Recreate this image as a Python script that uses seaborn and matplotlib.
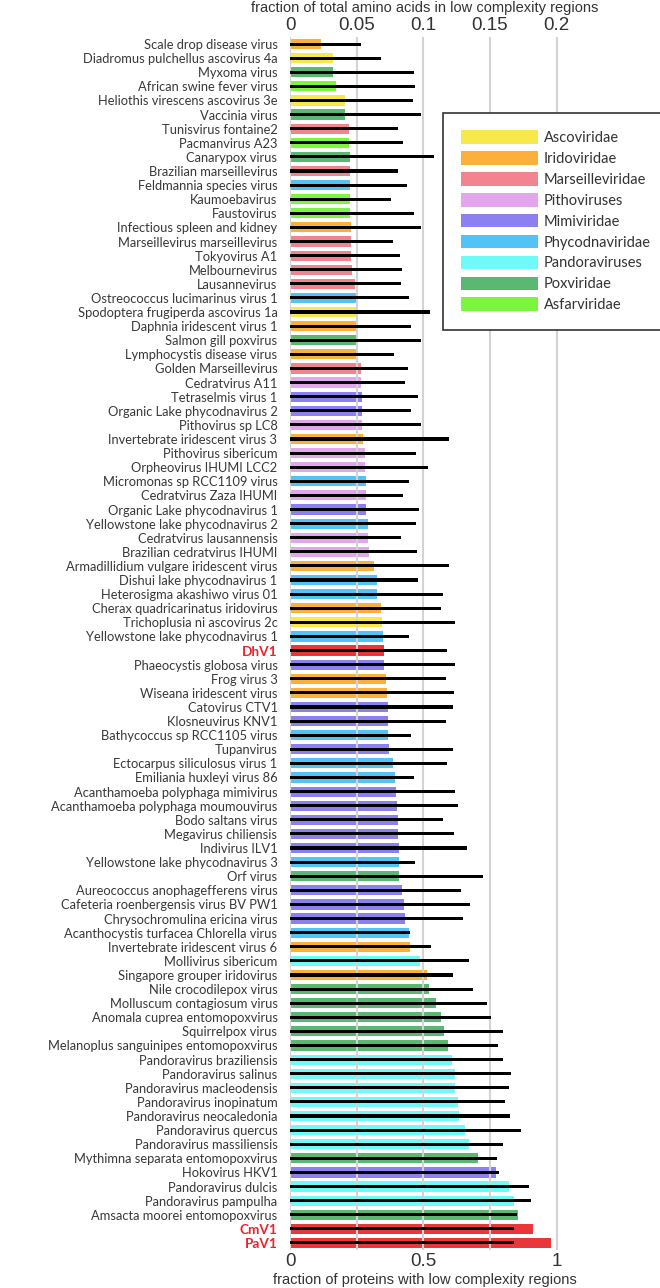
import matplotlib
matplotlib.use("Agg")
import matplotlib.pyplot as plt
import seaborn as sns
import pandas as pd
from matplotlib.patches import Patch

viruses = [
    "Scale drop disease virus", "Diadromus pulchellus ascovirus 4a", "Myxoma virus",
    "African swine fever virus", "Heliothis virescens ascovirus 3e", "Vaccinia virus",
    "Tunisvirus fontaine2", "Pacmanvirus A23", "Canarypox virus", "Brazilian marseillevirus",
    "Feldmannia species virus", "Kaumoebavirus", "Faustovirus", "Infectious spleen and kidney",
    "Marseillevirus marseillevirus", "Tokyovirus A1", "Melbournevirus", "Lausannevirus",
    "Ostreococcus lucimarinus virus 1", "Spodoptera frugiperda ascovirus 1a",
    "Daphnia iridescent virus 1", "Salmon gill poxvirus", "Lymphocystis disease virus",
    "Golden Marseillevirus", "Cedratvirus A11", "Tetraselmis virus 1",
    "Organic Lake phycodnavirus 2", "Pithovirus sp LC8", "Invertebrate iridescent virus 3",
    "Pithovirus sibericum", "Orpheovirus IHUMI LCC2", "Micromonas sp RCC1109 virus",
    "Cedratvirus Zaza IHUMI", "Organic Lake phycodnavirus 1", "Yellowstone lake phycodnavirus 2",
    "Cedratvirus lausannensis", "Brazilian cedratvirus IHUMI",
    "Armadillidium vulgare iridescent virus", "Dishui lake phycodnavirus 1",
    "Heterosigma akashiwo virus 01", "Cherax quadricarinatus iridovirus",
    "Trichoplusia ni ascovirus 2c", "Yellowstone lake phycodnavirus 1", "DhV1",
    "Phaeocystis globosa virus", "Frog virus 3", "Wiseana iridescent virus", "Catovirus CTV1",
    "Klosneuvirus KNV1", "Bathycoccus sp RCC1105 virus", "Tupanvirus",
    "Ectocarpus siliculosus virus 1", "Emiliania huxleyi virus 86",
    "Acanthamoeba polyphaga mimivirus", "Acanthamoeba polyphaga moumouvirus",
    "Bodo saltans virus", "Megavirus chiliensis", "Indivirus ILV1",
    "Yellowstone lake phycodnavirus 3", "Orf virus", "Aureococcus anophagefferens virus",
    "Cafeteria roenbergensis virus BV PW1", "Chrysochromulina ericina virus",
    "Acanthocystis turfacea Chlorella virus", "Invertebrate iridescent virus 6",
    "Mollivirus sibericum", "Singapore grouper iridovirus", "Nile crocodilepox virus",
    "Molluscum contagiosum virus", "Anomala cuprea entomopoxvirus", "Squirrelpox virus",
    "Melanoplus sanguinipes entomopoxvirus", "Pandoravirus braziliensis", "Pandoravirus salinus",
    "Pandoravirus macleodensis", "Pandoravirus inopinatum", "Pandoravirus neocaledonia",
    "Pandoravirus quercus", "Pandoravirus massiliensis", "Mythimna separata entomopoxvirus",
    "Hokovirus HKV1", "Pandoravirus dulcis", "Pandoravirus pampulha",
    "Amsacta moorei entomopoxvirus", "CmV1", "PaV1",
]

families = [
    "Iri", "Asc", "Pox", "Asf", "Asc", "Pox", "Mar", "Asf", "Pox", "Mar",
    "Phy", "Asf", "Asf", "Iri", "Mar", "Mar", "Mar", "Mar", "Phy", "Asc",
    "Iri", "Pox", "Iri", "Mar", "Pit", "Mim", "Mim", "Pit", "Iri", "Pit",
    "Pit", "Phy", "Pit", "Mim", "Phy", "Pit", "Pit", "Iri", "Phy", "Phy",
    "Iri", "Asc", "Phy", "New", "Mim", "Iri", "Iri", "Mim", "Mim", "Phy",
    "Mim", "Phy", "Phy", "Mim", "Mim", "Mim", "Mim", "Mim", "Phy", "Pox",
    "Mim", "Mim", "Mim", "Phy", "Iri", "Pan", "Iri", "Pox", "Pox", "Pox",
    "Pox", "Pox", "Pan", "Pan", "Pan", "Pan", "Pan", "Pan", "Pan", "Pox",
    "Mim", "Pan", "Pan", "Pox", "New", "New",
]

# fraction of proteins with low complexity regions (bottom axis)
protein_fraction = [
    0.115, 0.161, 0.161, 0.171, 0.206, 0.205, 0.221, 0.221, 0.224, 0.225,
    0.225, 0.225, 0.225, 0.229, 0.229, 0.230, 0.233, 0.243, 0.246, 0.248,
    0.248, 0.250, 0.255, 0.266, 0.268, 0.271, 0.271, 0.271, 0.275, 0.280,
    0.281, 0.284, 0.284, 0.286, 0.294, 0.294, 0.298, 0.314, 0.325, 0.326,
    0.340, 0.345, 0.348, 0.351, 0.354, 0.360, 0.365, 0.368, 0.368, 0.368,
    0.371, 0.388, 0.393, 0.399, 0.403, 0.404, 0.406, 0.408, 0.409, 0.409,
    0.419, 0.426, 0.431, 0.446, 0.449, 0.489, 0.514, 0.520, 0.546, 0.566,
    0.579, 0.594, 0.608, 0.618, 0.619, 0.631, 0.633, 0.656, 0.670, 0.705,
    0.771, 0.821, 0.839, 0.856, 0.910, 0.978,
]

# fraction of total amino acids in low complexity regions (top axis)
aa_fraction = [
    0.053, 0.0685, 0.093, 0.0935, 0.092, 0.098, 0.081, 0.085, 0.108, 0.081,
    0.0875, 0.076, 0.093, 0.098, 0.077, 0.0825, 0.084, 0.0835, 0.089, 0.105,
    0.091, 0.0985, 0.078, 0.0885, 0.086, 0.096, 0.091, 0.0985, 0.1195, 0.0945,
    0.1035, 0.089, 0.085, 0.097, 0.0945, 0.0835, 0.095, 0.119, 0.096, 0.115,
    0.1135, 0.124, 0.089, 0.1175, 0.1235, 0.117, 0.123, 0.122, 0.117, 0.091,
    0.122, 0.1175, 0.093, 0.1235, 0.126, 0.115, 0.123, 0.133, 0.0935, 0.145,
    0.128, 0.135, 0.130, 0.090, 0.106, 0.1345, 0.122, 0.137, 0.148, 0.151,
    0.160, 0.156, 0.160, 0.166, 0.1645, 0.161, 0.165, 0.173, 0.160, 0.155,
    0.157, 0.179, 0.181, 0.170, 0.168, 0.168,
]

legend_names = ["Ascoviridae", "Iridoviridae", "Marseilleviridae", "Pithoviruses",
                "Mimiviridae", "Phycodnaviridae", "Pandoraviruses", "Poxviridae",
                "Asfarviridae"]
legend_codes = ["Asc", "Iri", "Mar", "Pit", "Mim", "Phy", "Pan", "Pox", "Asf"]
highlight = ["DhV1", "CmV1", "PaV1"]

fam_colors = {
    "Asc": "#F9E84C", "Iri": "#FBB03B", "Mar": "#F28391", "Pit": "#E3A5EC",
    "Mim": "#8C80F0", "Phy": "#52C3F7", "Pan": "#6FFAFA", "Pox": "#5BB872",
    "Asf": "#7CF540", "New": "#E8363B",
}

sns.set_theme(style="white")
plt.rcParams["font.family"] = ["Lato", "DejaVu Sans"]

df = pd.DataFrame({"virus": viruses, "family": families,
                   "prot": protein_fraction, "aa": aa_fraction})
palette = {v: fam_colors[f] for v, f in zip(viruses, families)}

W, H = 660, 1288
fig = plt.figure(figsize=(W / 100, H / 100), dpi=100)
x0, x1 = 290, 290 + 266.7 * 1.01
y_top, y_bot = 37, 1250
ax = fig.add_axes([x0 / W, 1 - y_bot / H, (x1 - x0) / W, (y_bot - y_top) / H])

sns.barplot(data=df, x="prot", y="virus", hue="virus", palette=palette, legend=False,
            width=0.72, saturation=1, orient="h", ax=ax, linewidth=0, edgecolor="none")
ax.set_xlim(0, 1.01)

ax2 = ax.twiny()
sns.barplot(data=df, x="aa", y="virus", color="black", width=0.22, saturation=1,
            orient="h", ax=ax2, linewidth=0, edgecolor="none")
ax2.set_xlim(0, 0.202)

tick_font = ["Liberation Sans Narrow", "Liberation Sans", "DejaVu Sans"]

ax.set_xticks([0, 0.5, 1])
ax.set_xticklabels(["0", "0.5", "1"], family=tick_font, fontsize=13.5, color="#333333")
ax2.set_xticks([0, 0.05, 0.1, 0.15, 0.2])
ax2.set_xticklabels(["0", "0.05", "0.1", "0.15", "0.2"], family=tick_font, fontsize=13.5,
                    color="#333333")
ax.set_xlabel("fraction of proteins with low complexity regions", family=tick_font,
              fontsize=10.5, color="#333333", labelpad=2)
ax2.set_xlabel("fraction of total amino acids in low complexity regions", family=tick_font,
               fontsize=10.5, color="#333333", labelpad=4)
ax.set_ylabel("")
ax2.set_ylabel("")

ax.grid(False)
ax2.grid(axis="x", color="#d3d3d3", linewidth=1.5)
ax2.grid(axis="y", visible=False)
ax2.set_axisbelow(True)

for a in (ax, ax2):
    for s in a.spines.values():
        s.set_visible(False)
    a.tick_params(length=0)
ax.tick_params(axis="x", pad=2)
ax2.tick_params(axis="x", pad=2)
ax.tick_params(axis="y", pad=9)

for lbl in ax.get_yticklabels():
    lbl.set_fontsize(9.3)
    if lbl.get_text() in highlight:
        lbl.set_color("#E8252B")
        lbl.set_fontweight("bold")
        lbl.set_fontsize(9.8)
    else:
        lbl.set_color("#383838")

handles = [Patch(facecolor=fam_colors[c], edgecolor="none") for c in legend_codes]
leg = fig.legend(handles, legend_names, loc="upper left",
                 bbox_to_anchor=(443 / W, 1 - 113 / H), frameon=True, fancybox=False,
                 edgecolor="#333333", framealpha=1, fontsize=10.5, handlelength=5.3,
                 handleheight=1.05, handletextpad=0.4, labelspacing=0.42, borderpad=1.2,
                 borderaxespad=0)
leg.get_frame().set_linewidth(1.2)
for t in leg.get_texts():
    t.set_color("#333333")

fig.savefig("out.png", dpi=100)
